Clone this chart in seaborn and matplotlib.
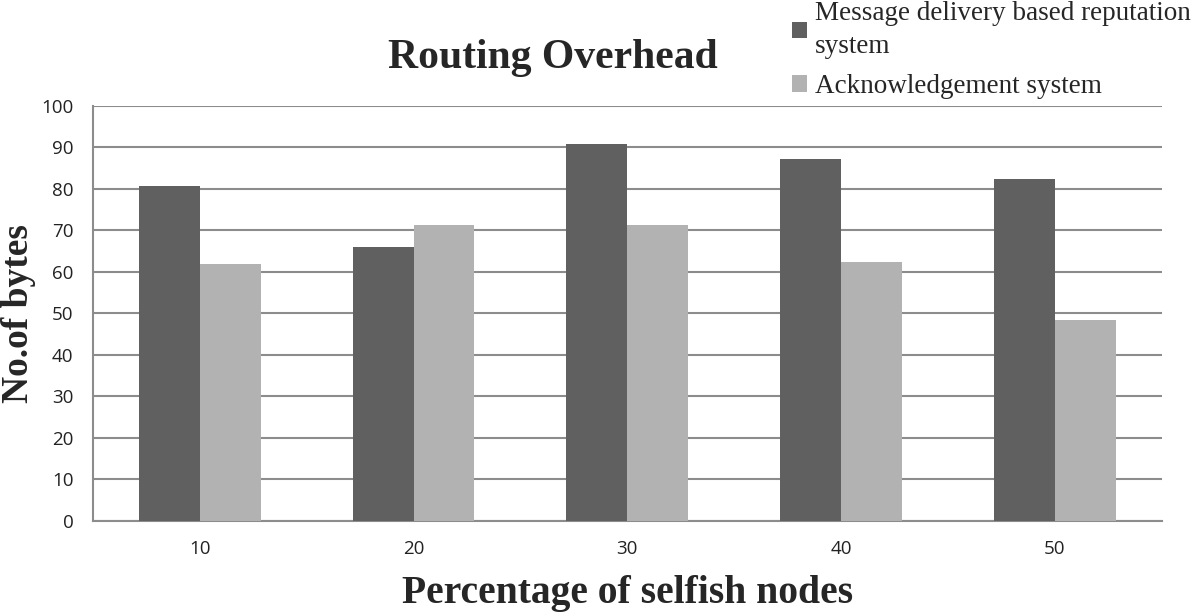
import pandas as pd
import numpy as np
import matplotlib.pyplot as plt
import seaborn as sns

sns.set_style("white")

# chart data
categories = ["10", "20", "30", "40", "50"]
series_names = ["Message delivery based reputation\nsystem", "Acknowledgement system"]
message_delivery = [80.8, 66.1, 90.8, 87.2, 82.3]
acknowledgement = [62.0, 71.2, 71.4, 62.3, 48.3]

df = pd.DataFrame({
    "nodes": categories * 2,
    "system": [series_names[0]] * 5 + [series_names[1]] * 5,
    "bytes": message_delivery + acknowledgement,
})

fig = plt.figure(figsize=(12, 6.12), dpi=100)
ax = fig.add_axes([0.0775, 0.149, 0.8905, 0.678])

sns.barplot(data=df, x="nodes", y="bytes", hue="system", order=categories,
            palette=["#606060", "#b2b2b2"], width=0.57, saturation=1,
            linewidth=0, ax=ax, zorder=3)

ax.set_ylim(0, 100)
ax.set_yticks(np.arange(0, 101, 10))
ax.yaxis.grid(True, color="#8c8c8c", linewidth=1.5, zorder=0)
ax.set_axisbelow(True)
for s in ["top", "right"]:
    ax.spines[s].set_visible(False)
for s in ["left", "bottom"]:
    ax.spines[s].set_color("#8c8c8c")
    ax.spines[s].set_linewidth(1.5)
ax.tick_params(axis="y", length=7, color="#8c8c8c", width=1.5, pad=7)
ax.tick_params(axis="x", length=0, pad=14)
for lbl in ax.get_xticklabels() + ax.get_yticklabels():
    lbl.set_fontfamily("Open Sans")
    lbl.set_fontsize(13.5)
    lbl.set_color("#222222")

ax.set_xlabel("Percentage of selfish nodes", fontfamily="Liberation Serif",
              fontweight="bold", fontsize=28.5, labelpad=12)
ax.set_ylabel("No.of bytes", fontfamily="Liberation Serif",
              fontweight="bold", fontsize=27)
ax.yaxis.set_label_coords(-0.053, 0.5)
fig.text(0.461, 0.905, "Routing Overhead", ha="center", va="center",
         fontfamily="Liberation Serif", fontweight="bold", fontsize=30)

leg = ax.legend(loc="upper left", bbox_to_anchor=(0.644, 1.28), frameon=False,
                prop={"family": "Liberation Serif", "size": 19.5},
                handlelength=0.55, handleheight=0.55, handletextpad=0.3,
                labelspacing=0.55, borderaxespad=0)
leg.get_texts()[0].set_linespacing(1.45)

fig.savefig("out.png", dpi=100)
